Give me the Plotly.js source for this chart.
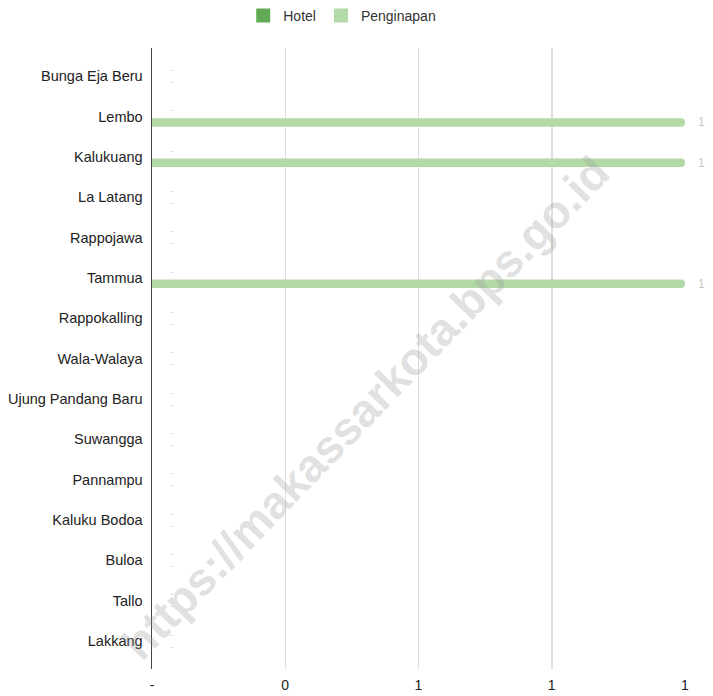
<!DOCTYPE html>
<html>
<head>
<meta charset="utf-8">
<script src="https://cdn.plot.ly/plotly-3.0.1.min.js"></script>
<style>html,body{margin:0;padding:0;background:#fff;}#chart{width:713px;height:696px;}</style>
</head>
<body>
<div id="chart"></div>
<script>
const categories = ["Bunga Eja Beru","Lembo","Kalukuang","La Latang","Rappojawa","Tammua","Rappokalling","Wala-Walaya","Ujung Pandang Baru","Suwangga","Pannampu","Kaluku Bodoa","Buloa","Tallo","Lakkang"];
const hotel =      [0,0,0,0,0,0,0,0,0,0,0,0,0,0,0];
const penginapan = [0,1,1,0,0,1,0,0,0,0,0,0,0,0,0];
const tickVals = [0,0.25,0.5,0.75,1];
const tickText = ["-","0","1","1","1"];
const seriesNames = ["Hotel","Penginapan"];
const seriesColors = ["#62aa56","#b3d9a7"];

const lbl = v => v === 0 ? "\u00a0\u00a0\u00a0\u00a0\u00a0\u00a0-" : "\u00a0\u00a0\u00a0" + String(v);
const lblSize = v => v === 0 ? 9 : 12;
const FONT = "Liberation Sans, Arial, sans-serif";

const common = {
  type: "bar", orientation: "h", y: categories,
  width: 0.21, textposition: "outside", cliponaxis: false, constraintext: "none",
  texttemplate: "%{text}",
  hoverinfo: "x+y", showlegend: false
};
const traces = [
  Object.assign({}, common, {name: seriesNames[0], x: hotel, text: hotel.map(lbl), offset: -0.26,
    textfont: {family: FONT, size: hotel.map(lblSize), color: "#c8c8c8"},
    marker: {color: seriesColors[0]}}),
  Object.assign({}, common, {name: seriesNames[1], x: penginapan, text: penginapan.map(lbl), offset: 0.04,
    textfont: {family: FONT, size: penginapan.map(lblSize), color: "#c8c8c8"},
    marker: {color: seriesColors[1]}})
];
// legend entries (square swatches)
seriesNames.forEach((n, i) => traces.push({
  type: "scatter", mode: "markers", x: [null], y: [null], name: n, showlegend: true, hoverinfo: "skip",
  marker: {symbol: "square", size: 14, color: seriesColors[i]}
}));

const layout = {
  width: 713, height: 696,
  margin: {l: 152, r: 28, t: 48, b: 27, pad: 0},
  paper_bgcolor: "#fff", plot_bgcolor: "#fff",
  font: {family: FONT, size: 14, color: "#222"},
  barmode: "overlay",
  barcornerradius: 4,
  legend: {orientation: "h", xref: "container", yref: "container", x: 0.48, xanchor: "center", y: 1.0, yanchor: "top",
    font: {size: 14, color: "#333"}, traceorder: "normal"},
  xaxis: {range: [0, 1], tickvals: tickVals, ticktext: tickText, showgrid: true, gridcolor: "#dedede", gridwidth: 1.5,
    zeroline: false, showline: false, ticks: "", ticklabelstandoff: 6, tickfont: {size: 14, color: "#222"}, fixedrange: true},
  yaxis: {range: [14.7, -0.7], showgrid: false, zeroline: false, showline: true, linecolor: "#444", linewidth: 1.5,
    ticks: "", ticklabelstandoff: 5, tickfont: {size: 14.5, color: "#222"}, fixedrange: true},
  annotations: [{
    text: "https://makassarkota.bps.go.id", xref: "paper", yref: "paper", x: 0.4, y: 0.42,
    showarrow: false, textangle: -46,
    font: {family: FONT, size: 46, color: "rgba(150,150,150,0.3)", weight: "bold"}
  }]
};
Plotly.newPlot("chart", traces, layout, {displayModeBar: false, staticPlot: true});
</script>
</body>
</html>
